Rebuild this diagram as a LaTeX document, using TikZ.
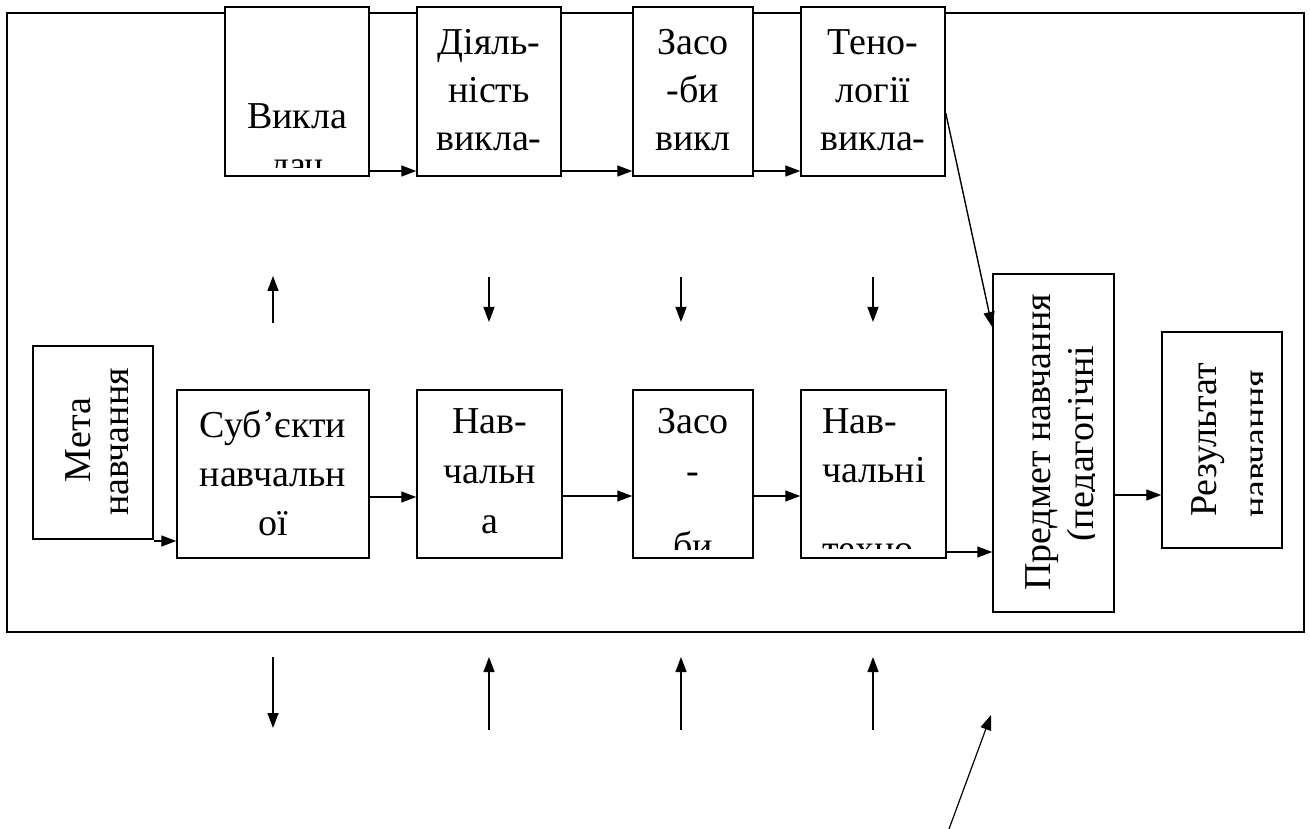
\documentclass[tikz,border=0pt]{standalone}
\usepackage{fontspec}
\setmainfont{Liberation Serif}
\newfontfamily\tnr{Liberation Serif}
\usetikzlibrary{arrows.meta,calc}
\begin{document}
\begin{tikzpicture}[x=1pt,y=-1pt,
  box/.style={draw, line width=1.5pt, fill=white, inner sep=0pt, rectangle},
  frame/.style={draw, line width=2pt, inner sep=0pt, rectangle},
  arr/.style={line width=1.4pt, -{Triangle[length=15pt,width=11pt]}},
  lbl/.style={inner sep=0pt, anchor=base, font=\tnr\fontsize{38}{46}\selectfont},
  llbl/.style={lbl, anchor=base west},
  vlbl/.style={lbl, rotate=90}]
\useasboundingbox (0,0) rectangle (1310,829);

% outer frame
\node[frame, minimum width=1297pt, minimum height=619pt] (frame) at (655.5,322.5) {};

% upper row: teacher side
\node[box, minimum width=144pt, minimum height=169pt] (b1) at (297,91.5) {};
\node[box, minimum width=144pt, minimum height=169pt] (b2) at (489,91.5) {};
\node[box, minimum width=120pt, minimum height=169pt] (b3) at (693,91.5) {};
\node[box, minimum width=144pt, minimum height=169pt] (b4) at (873,91.5) {};

\begin{scope}
  \clip (b1.north west) rectangle ($(b1.south east)+(0,-9)$);
  \node[lbl] at (297,129) {Викла};
  \node[lbl] at (297,178) {дач};
\end{scope}
\begin{scope}
  \clip (b2.north west) rectangle ($(b2.south east)+(0,-9)$);
  \node[lbl] at (489,55) {Діяль-};
  \node[lbl] at (489,103) {ність};
  \node[lbl] at (489,151) {викла-};
\end{scope}
\begin{scope}
  \clip (b3.north west) rectangle ($(b3.south east)+(0,-9)$);
  \node[lbl] at (693,55) {Засо};
  \node[lbl] at (693,103) {-би};
  \node[lbl] at (693,151) {викл};
\end{scope}
\begin{scope}
  \clip (b4.north west) rectangle ($(b4.south east)+(0,-9)$);
  \node[lbl] at (873,55) {Тено-};
  \node[lbl] at (873,103) {логії};
  \node[lbl] at (873,151) {викла-};
\end{scope}

% lower row: learner side
\node[box, minimum width=120pt, minimum height=193pt] (meta) at (93,442.5) {};
\node[box, minimum width=192pt, minimum height=168pt] (s1) at (273,474) {};
\node[box, minimum width=145pt, minimum height=168pt] (s2) at (489.5,474) {};
\node[box, minimum width=120pt, minimum height=168pt] (s3) at (693,474) {};
\node[box, minimum width=145pt, minimum height=168pt] (s4) at (873.5,474) {};
\node[box, minimum width=121pt, minimum height=338pt] (pred) at (1053.5,443) {};
\node[box, minimum width=120pt, minimum height=216pt] (res) at (1222,440) {};

\begin{scope}
  \clip (meta.north west) rectangle ($(meta.south east)+(-20,0)$);
  \node[vlbl] at (90,440) {Мета};
  \node[vlbl] at (128,442) {навчання};
\end{scope}
\begin{scope}
  \clip (s1.north west) rectangle ($(s1.south east)+(0,-9)$);
  \node[lbl] at (273,437) {Суб’єкти};
  \node[lbl] at (273,486) {навчальн};
  \node[lbl] at (273,535) {ої};
\end{scope}
\begin{scope}
  \clip (s2.north west) rectangle ($(s2.south east)+(0,-9)$);
  \node[lbl] at (489.5,433) {Нав-};
  \node[lbl] at (489.5,483) {чальн};
  \node[lbl] at (489.5,533) {а};
\end{scope}
\begin{scope}
  \clip (s3.north west) rectangle ($(s3.south east)+(0,-9)$);
  \node[lbl] at (693,433) {Засо};
  \node[lbl] at (693,483) {-};
  \node[lbl] at (693,558) {би};
\end{scope}
\begin{scope}
  \clip (s4.north west) rectangle ($(s4.south east)+(0,-10)$);
  \node[llbl] at (822,433) {Нав-};
  \node[llbl] at (822,482) {чальні};
  \node[llbl] at (822,561) {техно};
\end{scope}
\begin{scope}
  \clip (pred.north west) rectangle ($(pred.south east)+(-20,0)$);
  \node[vlbl] at (1050,442.5) {Предмет навчання};
  \node[vlbl] at (1093,444) {(педагогічні};
\end{scope}
\begin{scope}
  \clip (res.north west) rectangle ($(res.south east)+(-20,0)$);
  \node[vlbl] at (1216,440) {Результат};
  \node[vlbl] at (1268,444) {навчання};
\end{scope}

% connectors along the upper row
\draw[arr] (b1.east |- 0,171) -- (b2.west |- 0,171);
\draw[arr] (b2.east |- 0,171) -- (b3.west |- 0,171);
\draw[arr] (b3.east |- 0,171) -- (b4.west |- 0,171);
\draw[arr] (b4.east |- 0,113) -- (pred.west |- 0,327);

% connectors along the lower row
\draw[arr] (meta.east |- 0,541) -- (s1.west |- 0,541);
\draw[arr] (s1.east |- 0,497) -- (s2.west |- 0,497);
\draw[arr] (s2.east |- 0,496) -- (s3.west |- 0,496);
\draw[arr] (s3.east |- 0,496) -- (s4.west |- 0,496);
\draw[arr] (s4.east |- 0,552) -- (pred.west |- 0,552);
\draw[arr] (pred.east |- 0,495) -- (res.west |- 0,495);

% short arrows between the rows
\coordinate (m1a) at (273,323); \coordinate (m1b) at (273,276);
\coordinate (m2a) at (489,277); \coordinate (m2b) at (489,322);
\coordinate (m3a) at (681,277); \coordinate (m3b) at (681,322);
\coordinate (m4a) at (873,277); \coordinate (m4b) at (873,322);
\draw[arr] (m1a) -- (m1b);
\draw[arr] (m2a) -- (m2b);
\draw[arr] (m3a) -- (m3b);
\draw[arr] (m4a) -- (m4b);

% arrows below the frame
\coordinate (d1a) at (273,657); \coordinate (d1b) at (273,728);
\coordinate (d2a) at (489,730); \coordinate (d2b) at (489,657);
\coordinate (d3a) at (681,730); \coordinate (d3b) at (681,657);
\coordinate (d4a) at (873,730); \coordinate (d4b) at (873,657);
\coordinate (d5a) at (949,829); \coordinate (d5b) at (991,715);
\draw[arr] (d1a) -- (d1b);
\draw[arr] (d2a) -- (d2b);
\draw[arr] (d3a) -- (d3b);
\draw[arr] (d4a) -- (d4b);
\draw[line width=1.2pt, -{Triangle[length=15pt,width=11pt]}] (d5a) -- (d5b);
\end{tikzpicture}
\end{document}
